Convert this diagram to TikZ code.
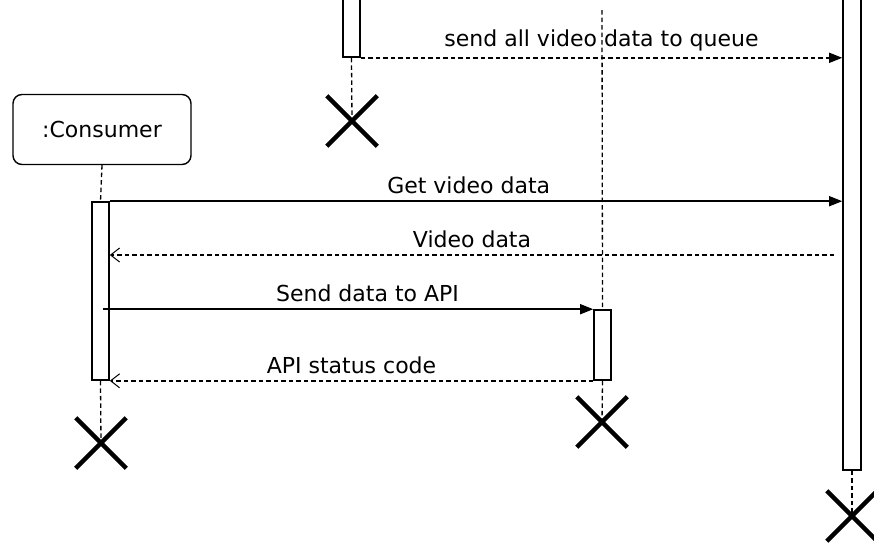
\documentclass[tikz,border=0pt]{standalone}
\usepackage{fontspec}
\setmainfont{DejaVu Sans}
\usetikzlibrary{arrows.meta,shapes.misc}

\tikzset{
  lifeline/.style={line width=1.3pt, dash pattern=on 4.5pt off 3pt},
  actbox/.style={draw, line width=1.6pt, fill=white, rectangle, inner sep=0pt, minimum width=17pt},
  objbox/.style={draw, line width=1.4pt, rounded corners=9pt, minimum width=178pt, minimum height=70pt, font=\fontsize{22}{26}\selectfont},
  endmark/.style={cross out, draw, line width=4.5pt, minimum size=46pt, inner sep=0pt},
  syncmsg/.style={line width=1.5pt, -{Triangle[length=13pt,width=10pt]}},
  asyncmsg/.style={line width=1.4pt, dash pattern=on 4.5pt off 3pt, -{Triangle[length=13pt,width=10pt]}},
  replymsg/.style={line width=1.4pt, dash pattern=on 4.5pt off 3pt, -{Straight Barb[length=9pt,width=14pt,line width=1pt]}},
  msglabel/.style={font=\fontsize{22}{26}\selectfont, above, inner sep=6.5pt}
}

\begin{document}
\begin{tikzpicture}[x=1pt,y=-1pt]
\useasboundingbox (0,0) rectangle (874,544);
\clip (0,0) rectangle (874,544);

% participants and activations
\node[objbox] (consumer) at (102,129.5) {:Consumer};
\node[actbox, minimum height=80pt] (prodAct) at (351.5,17) {};
\node[actbox, minimum width=18pt, minimum height=490pt] (queueAct) at (852,225) {};
\node[actbox, minimum height=178pt] (consAct) at (100.5,291) {};
\node[actbox, minimum height=70pt] (apiAct) at (602.5,345) {};
\coordinate (apiTop) at (602,10);
\coordinate (replyLevel) at (0,255);

% destruction marks
\node[endmark] (prodEnd) at (352,121) {};
\node[endmark] (consEnd) at (101,443) {};
\node[endmark] (apiEnd) at (602,422) {};
\node[endmark] (queueEnd) at (852,516) {};

% lifelines
\draw[lifeline] (prodAct.south) -- (prodEnd.center);
\draw[lifeline] (apiTop) -- (apiAct.north);
\draw[lifeline] (apiAct.south) -- (apiEnd.center);
\draw[lifeline] (queueAct.south) -- (queueEnd.center);
\draw[lifeline] (consumer.south) -- (consAct.north);
\draw[lifeline] (consAct.south) -- (consEnd.center);

% messages
\draw[asyncmsg] (prodAct.south east) -- (prodAct.south east -| queueAct.west)
  node[midway, msglabel] {send all video data to queue};
\draw[syncmsg] (consAct.north east) -- (consAct.north east -| queueAct.west)
  node[pos=0.49, msglabel] {Get video data};
\draw[replymsg] ([xshift=-8pt]queueAct.west |- replyLevel) -- (consAct.east |- replyLevel)
  node[midway, msglabel] {Video data};
\draw[syncmsg] ([xshift=2pt]consAct.center |- apiAct.north) -- (apiAct.north west)
  node[pos=0.54, msglabel] {Send data to API};
\draw[replymsg] (apiAct.south west) -- (apiAct.south west -| consAct.east)
  node[midway, msglabel] {API status code};
\end{tikzpicture}
\end{document}
